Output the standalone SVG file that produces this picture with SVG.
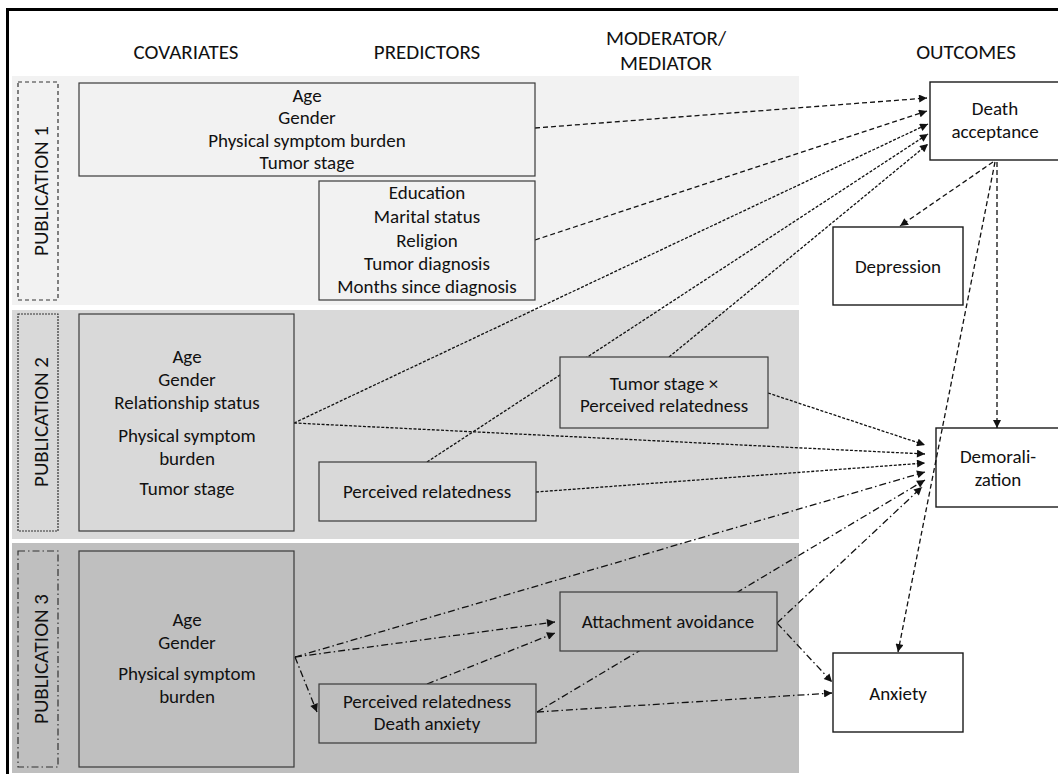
<svg xmlns="http://www.w3.org/2000/svg" width="1058" height="774" viewBox="0 0 1058 774">
  <style>
    text { font-family: Carlito, Lato, "Liberation Sans", sans-serif; fill: #111; text-anchor: middle; }
    .hdr { font-size: 21px; }
    .lbl { font-size: 19px; }
    .pub { font-size: 21px; }
    .box { stroke: #3a3a3a; stroke-width: 1.2; }
    .out { fill: #ffffff; stroke: #1a1a1a; stroke-width: 1.4; }
    .tag { fill: none; stroke: #333; stroke-width: 1.2; }
    .c { fill: none; stroke: #111; stroke-width: 1.3; marker-end: url(#ah); }
    .p1 { stroke-dasharray: 5 3; }
    .p2 { stroke-dasharray: 3 1.6; }
    .p3 { stroke-dasharray: 7 3 1.5 3; }
  </style>
  <defs>
    <marker id="ah" viewBox="0 0 10 10" refX="10" refY="5" markerWidth="10" markerHeight="8" markerUnits="userSpaceOnUse" orient="auto">
      <path d="M0,0 L10,5 L0,10 z" fill="#111"/>
    </marker>
  </defs>

  <!-- outer frame (top and left rules) -->
  <line x1="6" y1="9.5" x2="1058" y2="9.5" stroke="#000" stroke-width="3"/>
  <line x1="7.5" y1="8" x2="7.5" y2="774" stroke="#000" stroke-width="3"/>

  <!-- column headers -->
  <g id="headers">
    <text class="hdr" x="186" y="59">COVARIATES</text>
    <text class="hdr" x="427" y="59">PREDICTORS</text>
    <text class="hdr" x="666" y="45">MODERATOR/</text>
    <text class="hdr" x="666" y="70">MEDIATOR</text>
    <text class="hdr" x="966" y="59">OUTCOMES</text>
  </g>

  <!-- publication bands -->
  <rect x="12" y="76" width="787" height="229" fill="#f2f2f2"/>
  <rect x="12" y="310" width="787" height="229" fill="#d9d9d9"/>
  <rect x="12" y="543" width="787" height="230" fill="#bfbfbf"/>

  <!-- publication tags -->
  <g id="pub1-tag">
    <rect class="tag" x="18" y="82" width="40" height="218" stroke-dasharray="4 3"/>
    <text class="pub" transform="translate(48,191) rotate(-90)">PUBLICATION 1</text>
  </g>
  <g id="pub2-tag">
    <rect class="tag" x="18" y="314" width="40" height="217" stroke-dasharray="2 1"/>
    <text class="pub" transform="translate(48,422) rotate(-90)">PUBLICATION 2</text>
  </g>
  <g id="pub3-tag">
    <rect class="tag" x="18" y="551" width="40" height="216" stroke-dasharray="7 3 1.5 3"/>
    <text class="pub" transform="translate(48,659) rotate(-90)">PUBLICATION 3</text>
  </g>

  <!-- outcome nodes -->
  <g id="death-acceptance">
    <rect class="out" x="930" y="82" width="130" height="78"/>
    <text class="lbl" x="995" y="115">Death</text>
    <text class="lbl" x="995" y="138">acceptance</text>
  </g>
  <g id="depression">
    <rect class="out" x="833" y="227" width="130" height="78"/>
    <text class="lbl" x="898" y="273">Depression</text>
  </g>
  <g id="demoralization">
    <rect class="out" x="936" y="428" width="124" height="79"/>
    <text class="lbl" x="998" y="463">Demorali-</text>
    <text class="lbl" x="998" y="486">zation</text>
  </g>
  <g id="anxiety">
    <rect class="out" x="833" y="653" width="130" height="79"/>
    <text class="lbl" x="898" y="700">Anxiety</text>
  </g>

  <!-- paths between nodes -->
  <g id="connectors">
    <!-- publication 1 -->
    <path class="c p1" d="M535,128 L927,98"/>
    <path class="c p1" d="M535,240 L927,111"/>
    <path class="c p1" d="M993,162 L900,226"/>
    <path class="c p1" d="M997,162 L997,428"/>
    <path class="c p1" d="M995,162 L898,652"/>
    <!-- publication 2 -->
    <path class="c p2" d="M294,423 L928,124"/>
    <path class="c p2" d="M427,462 L928,134"/>
    <path class="c p2" d="M669,357 L928,144"/>
    <path class="c p2" d="M768,393 L925,445"/>
    <path class="c p2" d="M294,423 L925,454"/>
    <path class="c p2" d="M536,492 L925,463"/>
    <!-- publication 3 -->
    <path class="c p3" d="M295,657 L925,472"/>
    <path class="c p3" d="M537,712 L925,480"/>
    <path class="c p3" d="M777,623 L922,487"/>
    <path class="c p3" d="M295,657 L555,622"/>
    <path class="c p3" d="M427,684 L555,633"/>
    <path class="c p3" d="M295,657 L317,712"/>
    <path class="c p3" d="M537,712 L832,693"/>
    <path class="c p3" d="M777,623 L832,682"/>
  </g>

  <!-- publication 1 nodes -->
  <g id="p1-covariates">
    <rect class="box" x="79" y="83" width="456" height="93" fill="#f2f2f2"/>
    <text class="lbl" x="307" y="102">Age</text>
    <text class="lbl" x="307" y="124">Gender</text>
    <text class="lbl" x="307" y="147">Physical symptom burden</text>
    <text class="lbl" x="307" y="169">Tumor stage</text>
  </g>
  <g id="p1-covariates-2">
    <rect class="box" x="319" y="181" width="216" height="119" fill="#f2f2f2"/>
    <text class="lbl" x="427" y="199">Education</text>
    <text class="lbl" x="427" y="223">Marital status</text>
    <text class="lbl" x="427" y="247">Religion</text>
    <text class="lbl" x="427" y="270">Tumor diagnosis</text>
    <text class="lbl" x="427" y="293">Months since diagnosis</text>
  </g>

  <!-- publication 2 nodes -->
  <g id="p2-covariates">
    <rect class="box" x="79" y="314" width="215" height="217" fill="#d9d9d9"/>
    <text class="lbl" x="187" y="363">Age</text>
    <text class="lbl" x="187" y="386">Gender</text>
    <text class="lbl" x="187" y="409">Relationship status</text>
    <text class="lbl" x="187" y="442">Physical symptom</text>
    <text class="lbl" x="187" y="465">burden</text>
    <text class="lbl" x="187" y="495">Tumor stage</text>
  </g>
  <g id="p2-relatedness">
    <rect class="box" x="319" y="462" width="217" height="59" fill="#d9d9d9"/>
    <text class="lbl" x="427" y="498">Perceived relatedness</text>
  </g>
  <g id="p2-interaction">
    <rect class="box" x="560" y="357" width="208" height="71" fill="#d9d9d9"/>
    <text class="lbl" x="664" y="390">Tumor stage ×</text>
    <text class="lbl" x="664" y="412">Perceived relatedness</text>
  </g>

  <!-- publication 3 nodes -->
  <g id="p3-covariates">
    <rect class="box" x="79" y="551" width="215" height="216" fill="#bfbfbf"/>
    <text class="lbl" x="187" y="626">Age</text>
    <text class="lbl" x="187" y="649">Gender</text>
    <text class="lbl" x="187" y="680">Physical symptom</text>
    <text class="lbl" x="187" y="703">burden</text>
  </g>
  <g id="p3-predictors">
    <rect class="box" x="319" y="684" width="217" height="59" fill="#bfbfbf"/>
    <text class="lbl" x="427" y="708">Perceived relatedness</text>
    <text class="lbl" x="427" y="730">Death anxiety</text>
  </g>
  <g id="p3-attachment">
    <rect class="box" x="560" y="592" width="217" height="59" fill="#bfbfbf"/>
    <text class="lbl" x="668" y="628">Attachment avoidance</text>
  </g>
</svg>
